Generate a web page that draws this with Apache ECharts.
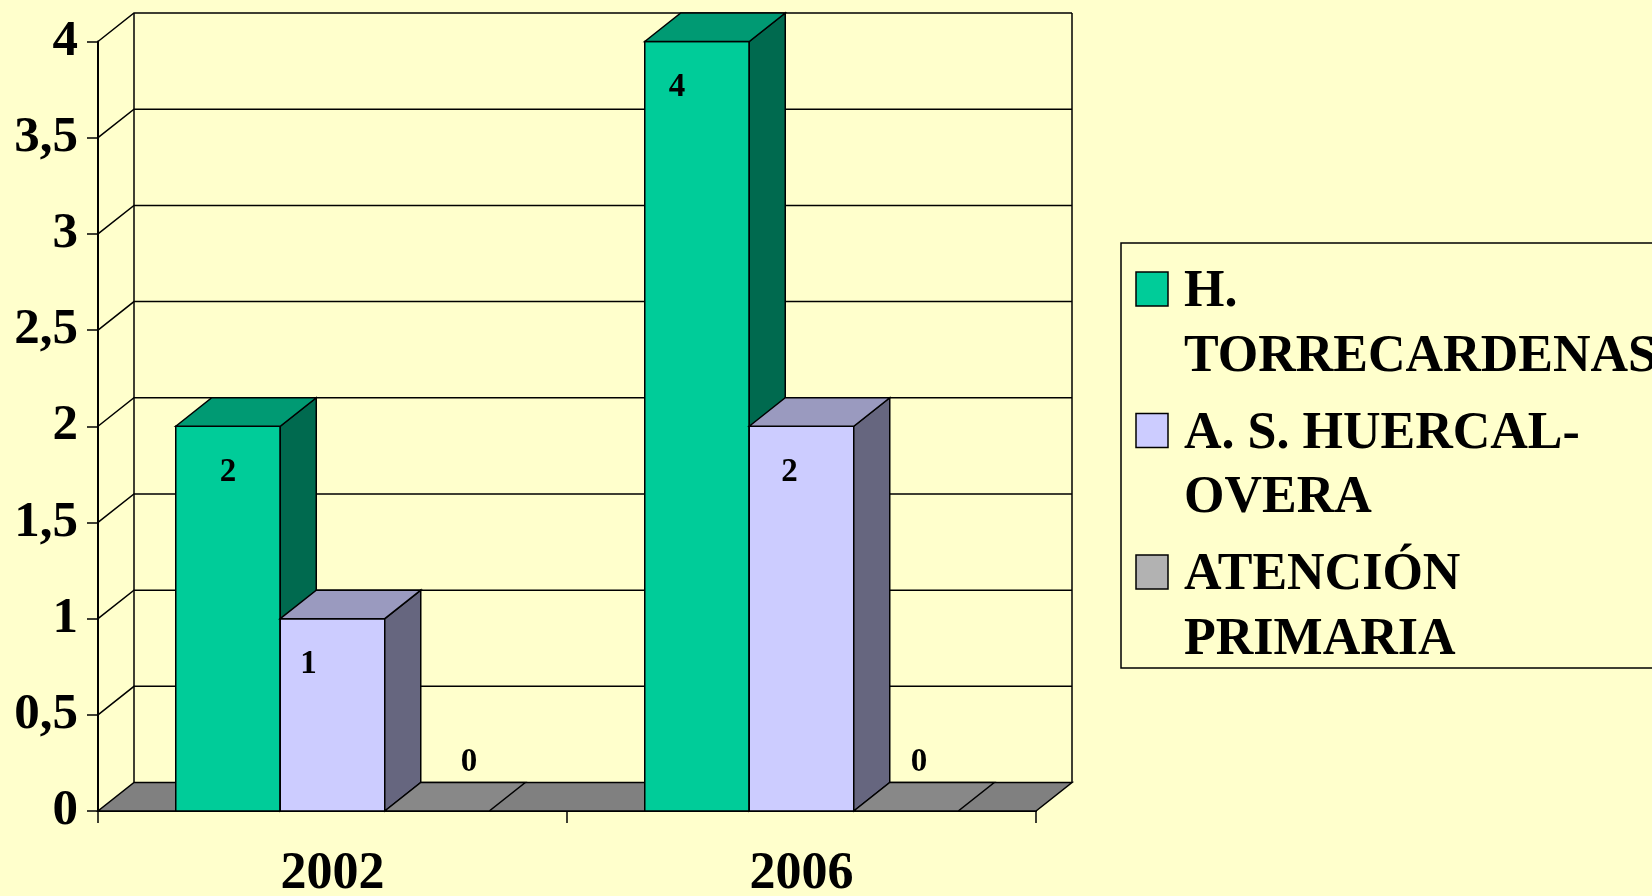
<!DOCTYPE html>
<html>
<head>
<meta charset="utf-8">
<script src="https://cdn.jsdelivr.net/npm/echarts@6/dist/echarts.min.js"></script>
<style>
html,body{margin:0;padding:0;background:#FFFFCC;}
#chart{width:1652px;height:896px;}
</style>
</head>
<body>
<div id="chart"></div>
<script>
// ---- data ----
const categories = ['2002', '2006'];
const seriesNames = ['H. TORRECARDENAS', 'A. S. HUERCAL-OVERA', 'ATENCIÓN PRIMARIA'];
const legendLabels = ['H.\nTORRECARDENAS', 'A. S. HUERCAL-\nOVERA', 'ATENCIÓN\nPRIMARIA'];
const valuesTorrecardenas = [2, 4];
const valuesHuercalOvera = [1, 2];
const valuesAtencionPrimaria = [0, 0];
const yTicks = [0, 0.5, 1, 1.5, 2, 2.5, 3, 3.5, 4];

// ---- style ----
const FONT = 'Liberation Serif';
const frontColors = ['#00CC99', '#CCCCFF', '#B2B2B2'];
const topColors = ['#009A73', '#9A9ABF', '#888888'];
const sideColors = ['#006A4F', '#66667F', '#5A5A5A'];
const DX = 36, DY = -28.5;
const BAR_FRAC = 104.5 / 469;
// label x shift (px) per series / category, imitating the original placement
const labelShift = [[0, -20], [-24, -12], [32, 13]];

const allValues = [valuesTorrecardenas, valuesHuercalOvera, valuesAtencionPrimaria];

function frameRender(params, api) {
  const cs = params.coordSys;
  const v = api.value(1);
  const y = api.coord([0, v])[1];
  const xl = cs.x, xr = cs.x + cs.width;
  const ln = {stroke: '#000', lineWidth: 1.5, fill: null};
  const children = [];
  if (v === yTicks[0]) {
    children.push({type: 'polygon', shape: {points: [[xl, y], [xr, y], [xr + DX, y + DY], [xl + DX, y + DY]]},
      style: {fill: '#808080', stroke: '#000', lineWidth: 1.5}});
    const yTop = cs.y;
    children.push({type: 'polyline', shape: {points: [[xl + DX, y + DY], [xl + DX, yTop + DY]]}, style: ln});
    children.push({type: 'polyline', shape: {points: [[xr + DX, y + DY], [xr + DX, yTop + DY]]}, style: ln});
  } else {
    children.push({type: 'polyline', shape: {points: [[xl, y], [xl + DX, y + DY], [xr + DX, y + DY]]}, style: ln});
  }
  return {type: 'group', children: children};
}

function makeBarRender(sIdx) {
  return function (params, api) {
    const cat = api.value(0), val = api.value(1);
    const base = api.coord([cat, 0]);
    const top = api.coord([cat, val]);
    const band = api.size([1, 0])[0];
    const bw = band * BAR_FRAC;
    const x0 = base[0] - 1.5 * bw + sIdx * bw;
    const x1 = x0 + bw;
    const yb = base[1], yt = top[1];
    const edge = {stroke: '#000', lineWidth: 1.5};
    const children = [];
    if (val > 0) {
      children.push({type: 'polygon', shape: {points: [[x0, yb], [x0, yt], [x1, yt], [x1, yb]]},
        style: Object.assign({fill: frontColors[sIdx]}, edge)});
      children.push({type: 'polygon', shape: {points: [[x1, yt], [x1 + DX, yt + DY], [x1 + DX, yb + DY], [x1, yb]]},
        style: Object.assign({fill: sideColors[sIdx]}, edge)});
    }
    children.push({type: 'polygon', shape: {points: [[x0, yt], [x0 + DX, yt + DY], [x1 + DX, yt + DY], [x1, yt]]},
      style: Object.assign({fill: topColors[sIdx]}, edge)});
    const cx = (x0 + x1) / 2 + labelShift[sIdx][cat];
    const ly = val > 0 ? yt + 46 : yb + DY - 20;
    children.push({type: 'text', x: cx, y: ly, z2: 10,
      style: {text: String(val), fill: '#000', font: 'bold 33px "' + FONT + '"', align: 'center', verticalAlign: 'middle'}});
    return {type: 'group', children: children};
  };
}

const series = [{
  type: 'custom', name: 'frame', z: 1, silent: true,
  renderItem: frameRender,
  data: yTicks.map(t => [0, t]),
  encode: {x: 0, y: 1}
}];
seriesNames.forEach((name, i) => {
  series.push({
    type: 'custom', name: name, z: 3 + i, silent: true,
    renderItem: makeBarRender(i),
    data: allValues[i].map((v, j) => [j, v]),
    encode: {x: 0, y: 1},
    itemStyle: {color: frontColors[i]}
  });
});

// legend drawn as graphic (marker aligned to first text line)
const graphic = [{
  type: 'rect', shape: {x: 1121, y: 243, width: 600, height: 425},
  style: {fill: '#FFFFCC', stroke: '#000', lineWidth: 1.5}, z: 0
}];
const LEG_LINE = 64.5, LEG_STEP = 141.5, LEG_FIRST = 289;
legendLabels.forEach((lab, i) => {
  const cy = LEG_FIRST + i * LEG_STEP;
  graphic.push({type: 'rect', shape: {x: 1136, y: cy - 17, width: 32, height: 34},
    style: {fill: frontColors[i], stroke: '#000', lineWidth: 1.5}, z: 1});
  graphic.push({type: 'text', x: 1184, y: cy - LEG_LINE / 2 + 4, z: 1,
    style: {text: lab, fill: '#000', font: 'bold 52px "' + FONT + '"', lineHeight: LEG_LINE, verticalAlign: 'top', align: 'left'}});
});

const chart = echarts.init(document.getElementById('chart'), null, {renderer: 'canvas'});
chart.setOption({
  backgroundColor: '#FFFFCC',
  animation: false,
  legend: {show: false},
  grid: {left: 98, top: 41.5, width: 938, height: 769.5, containLabel: false, outerBoundsMode: 'none'},
  xAxis: {
    type: 'category', data: categories, boundaryGap: true,
    axisLine: {show: true, lineStyle: {color: '#000', width: 2}},
    axisTick: {show: true, length: 12, interval: 0, alignWithLabel: false, lineStyle: {color: '#000', width: 1.5}},
    axisLabel: {color: '#000', fontFamily: FONT, fontWeight: 'bold', fontSize: 52, margin: 38},
    splitLine: {show: false}
  },
  yAxis: {
    type: 'value', min: 0, max: 4, interval: 0.5,
    axisLine: {show: true, lineStyle: {color: '#000', width: 2}},
    axisTick: {show: true, length: 11, lineStyle: {color: '#000', width: 1.5}},
    axisLabel: {color: '#000', fontFamily: FONT, fontWeight: 'bold', fontSize: 51, margin: 20,
      formatter: v => String(v).replace('.', ',')},
    splitLine: {show: false}
  },
  graphic: graphic,
  series: series
});
</script>
</body>
</html>
